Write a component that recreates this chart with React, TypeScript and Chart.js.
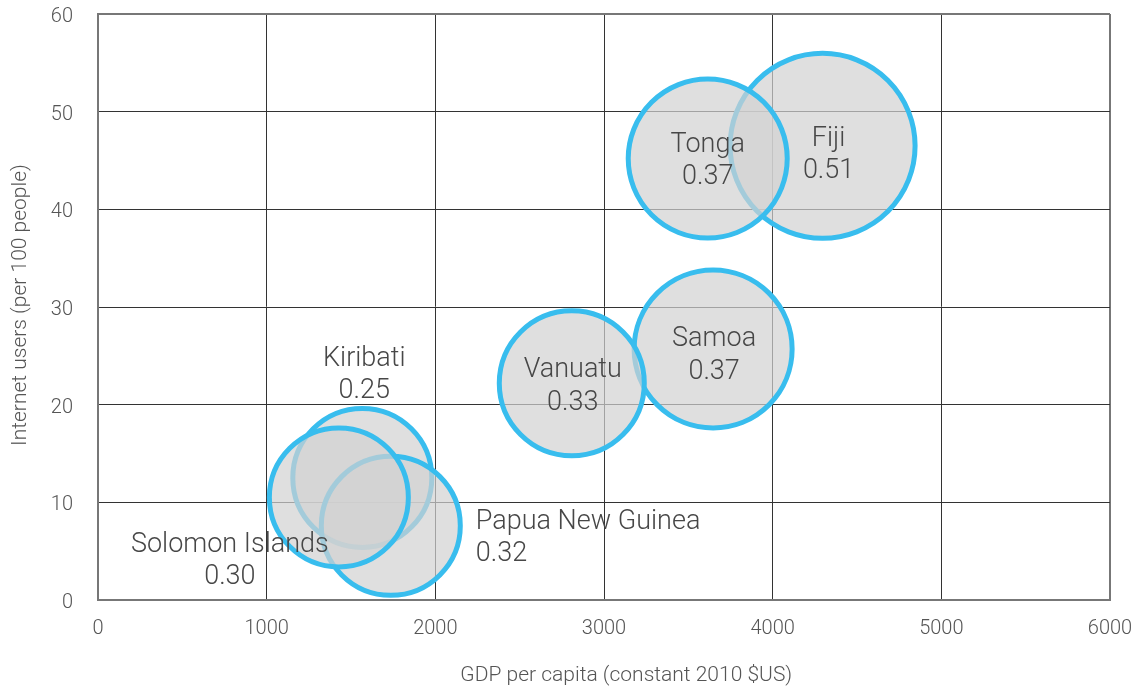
import React, { useEffect, useRef } from 'react';
import { Chart, registerables, BubbleController } from 'chart.js';

Chart.register(...registerables);

// Bubbles may overlap the plot edge: don't let the bubble controller shrink the plot area.
(BubbleController.prototype as any).getMaxOverflow = function () {
  return 0;
};

// ---- Data ----
const countries = ['Fiji', 'Samoa', 'Kiribati', 'Papua New Guinea', 'Tonga', 'Vanuatu', 'Solomon Islands'];
const gdpPerCapita = [4296, 3647, 1567, 1736, 3615, 2809, 1428];
const internetUsers = [46.5, 25.7, 12.5, 7.6, 45.2, 22.2, 10.5];
const indexValues = [0.51, 0.37, 0.25, 0.32, 0.37, 0.33, 0.3];
const bubbleRadius = [92.5, 79, 69.5, 69.5, 79.5, 72.5, 69.5];
const xTickValues = [0, 1000, 2000, 3000, 4000, 5000, 6000];
const yTickValues = [0, 10, 20, 30, 40, 50, 60];
const xTitle = 'GDP per capita (constant 2010 $US)';
const yTitle = 'Internet users (per 100 people)';

// ---- Label placement (layout, relative to each bubble centre) ----
const labelLayout: { dx: number; dy1: number; dy2: number; align: CanvasTextAlign }[] = [
  { dx: 6, dy1: -10, dy2: 22, align: 'center' }, // Fiji
  { dx: 1, dy1: -13, dy2: 20, align: 'center' }, // Samoa
  { dx: 2, dy1: -121.5, dy2: -89.5, align: 'center' }, // Kiribati
  { dx: 85, dy1: -6, dy2: 26, align: 'left' }, // PNG
  { dx: 0, dy1: -16.5, dy2: 15.5, align: 'center' }, // Tonga
  { dx: 1, dy1: -15.5, dy2: 17.5, align: 'center' }, // Vanuatu
  { dx: -109, dy1: 44.5, dy2: 77, align: 'center' }, // Solomon Islands
];

const FONT = 'Roboto, "Liberation Sans", Arial, sans-serif';

export default function App() {
  const ref = useRef<HTMLCanvasElement>(null);

  useEffect(() => {
    document.body.style.margin = '0';
    const canvas = ref.current;
    if (!canvas) return;

    const labelPlugin = {
      id: 'bubbleLabels',
      afterDatasetsDraw(chart: any) {
        const ctx = chart.ctx as CanvasRenderingContext2D;
        const meta = chart.getDatasetMeta(0);
        ctx.save();
        ctx.font = `300 27px ${FONT}`;
        ctx.fillStyle = '#474747';
        ctx.textBaseline = 'alphabetic';
        meta.data.forEach((el: any, i: number) => {
          const L = labelLayout[i];
          ctx.textAlign = L.align;
          const x = el.x + L.dx;
          ctx.fillText(countries[i], x, el.y + L.dy1 + 9.7);
          ctx.fillText(indexValues[i].toFixed(2), x, el.y + L.dy2 + 9.7);
        });
        ctx.restore();
      },
    };

    const axisTitlePlugin = {
      id: 'axisTitles',
      afterDraw(chart: any) {
        const ctx = chart.ctx as CanvasRenderingContext2D;
        const a = chart.chartArea;
        ctx.save();
        ctx.font = `300 21px ${FONT}`;
        ctx.fillStyle = '#555555';
        ctx.textAlign = 'center';
        ctx.textBaseline = 'middle';
        ctx.fillText(xTitle, a.left + (a.right - a.left) * 0.522, a.bottom + 76);
        ctx.translate(20.5, (a.top + a.bottom) / 2 - 2);
        ctx.rotate(-Math.PI / 2);
        ctx.fillText(yTitle, 0, 0);
        ctx.restore();
      },
    };

    const gridColor = (edgeVal: number) => (c: any) =>
      c.tick && c.tick.value === edgeVal ? '#777777' : '#333333';
    const gridWidth = (edgeVal: number) => (c: any) =>
      c.tick && c.tick.value === edgeVal ? 2 : 1;

    const chart = new Chart(canvas, {
      type: 'bubble',
      data: {
        datasets: [
          {
            data: countries.map((_, i) => ({ x: gdpPerCapita[i], y: internetUsers[i], r: bubbleRadius[i] })),
            backgroundColor: 'rgba(210,210,210,0.7)',
            borderColor: '#38BDEE',
            borderWidth: 5,
            clip: false as any,
          },
        ],
      },
      options: {
        responsive: false,
        animation: false,
        events: [],
        layout: { padding: { top: 14, right: 31, left: 0, bottom: 0 } },
        plugins: {
          legend: { display: false },
          tooltip: { enabled: false },
        },
        scales: {
          x: {
            type: 'linear',
            min: 0,
            max: 6000,
            afterFit: (s: any) => {
              s.height = 88;
              s.paddingLeft = 0;
              s.paddingRight = 0;
              s.paddingTop = 0;
              s.paddingBottom = 0;
            },
            afterBuildTicks: (s: any) => {
              s.ticks = xTickValues.map((v) => ({ value: v }));
            },
            ticks: {
              padding: 17,
              color: '#555555',
              font: { family: FONT, size: 20, weight: '300' as any },
              callback: (v: any) => String(v),
            },
            grid: { color: gridColor(6000), lineWidth: gridWidth(6000), drawTicks: false },
            border: { display: true, color: '#777777', width: 2 },
          },
          y: {
            type: 'linear',
            min: 0,
            max: 60,
            afterFit: (s: any) => {
              s.width = 98;
              s.paddingLeft = 0;
              s.paddingRight = 0;
              s.paddingTop = 0;
              s.paddingBottom = 0;
            },
            afterBuildTicks: (s: any) => {
              s.ticks = yTickValues.map((v) => ({ value: v }));
            },
            ticks: {
              padding: 25,
              labelOffset: 3,
              color: '#555555',
              font: { family: FONT, size: 20, weight: '300' as any },
              callback: (v: any) => String(v),
            },
            grid: { color: gridColor(60), lineWidth: gridWidth(60), drawTicks: false },
            border: { display: true, color: '#777777', width: 2 },
          },
        },
      },
      plugins: [labelPlugin, axisTitlePlugin],
    });

    return () => chart.destroy();
  }, []);

  return (
    <div style={{ width: 1141, height: 688, background: '#ffffff' }}>
      <canvas ref={ref} width={1141} height={688} />
    </div>
  );
}
